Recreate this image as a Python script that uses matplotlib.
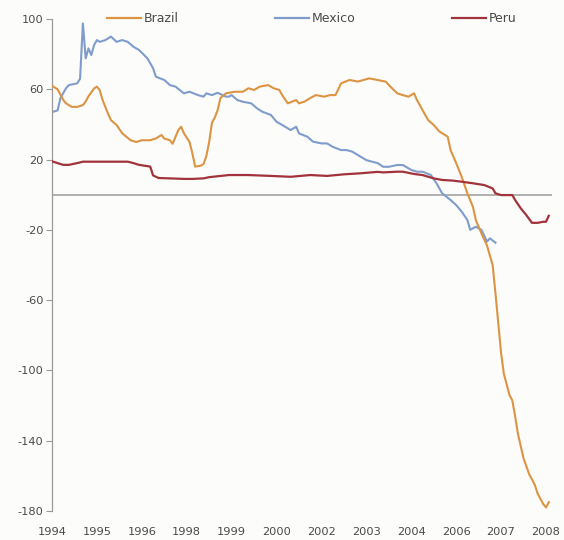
import matplotlib
matplotlib.use("Agg")
import matplotlib.pyplot as plt
from matplotlib.lines import Line2D

plt.rcParams['font.family'] = ['DejaVu Sans']

# Monthly index (0 = Jan 1994)
brazil_m = [0, 2, 4, 5, 7, 9, 11, 12, 13, 15, 16, 17, 18, 20, 21, 23, 25, 28, 30, 32, 35, 37, 39, 40,
            42, 43, 45, 46, 47, 49, 50, 51, 53, 54, 55, 56, 57, 58, 59, 60, 62, 65, 68, 70, 72, 74, 77,
            79, 81, 82, 84, 87, 88, 90, 92, 94, 97, 99, 101, 103, 106, 109, 111, 113, 116, 119, 120,
            123, 125, 127, 129, 130, 132, 134, 136, 138, 141, 142, 144, 146, 148, 150, 151, 153, 155,
            157, 158, 159, 160, 161, 163, 164, 165, 166, 167, 168, 170, 172, 173, 175, 176, 177]
brazil_v = [62, 60, 54, 52, 50, 50, 51, 53, 56, 60.5, 61.5, 59.5, 54, 46, 42.5, 39.7, 35, 31, 30, 31, 31,
            32, 34, 32, 31, 29, 36.8, 38.7, 35, 30, 23.6, 16, 16.5, 17.5, 22, 30, 41, 44, 48, 55, 57.7,
            58.6, 58.6, 60.6, 59.6, 61.5, 62.4, 60.6, 59.6, 56.7, 52, 53.9, 52, 53, 55, 56.7, 55.8,
            56.7, 56.7, 63.4, 65.3, 64.4, 65.3, 66.2, 65.3, 64.3, 62.4, 57.7, 56.7, 55.8, 57.7, 54,
            48.2, 42.5, 39.7, 36, 33, 25.4, 18, 10, 0.8, -7, -14.4, -22, -29, -40, -56, -73, -90, -102,
            -114, -117, -126, -136, -143, -150, -159, -165, -170, -176, -178, -175]

mexico_m = [0, 2, 3, 5, 6, 9, 10, 11, 12, 13, 14, 15, 16, 17, 19, 21, 23, 25, 27, 29, 31, 34, 36, 37,
            40, 42, 44, 47, 49, 52, 54, 55, 57, 59, 62, 63, 64, 66, 68, 71, 73, 75, 78, 80, 82, 85,
            87, 88, 91, 93, 96, 98, 100, 103, 105, 107, 110, 112, 114, 116, 118, 120, 123, 125, 128,
            130, 132, 135, 137, 139, 142, 144, 146, 148, 149, 151, 153, 155, 156, 158]
mexico_v = [47, 48, 55, 60.6, 62.4, 63.4, 66, 97.5, 77.6, 83.3, 79.5, 85.2, 88, 87, 88, 90, 87, 88, 87,
            84.2, 82.4, 77.6, 72, 67.2, 65.3, 62.4, 61.5, 57.7, 58.6, 56.7, 55.8, 57.7, 56.7, 58, 55.8,
            55.8, 56.7, 53.9, 52.9, 52, 49.2, 47.2, 45.4, 41.5, 39.7, 36.8, 38.7, 34.9, 33, 30.2, 29.2,
            29.2, 27.3, 25.4, 25.4, 24.5, 21.6, 19.7, 18.8, 18, 15.9, 15.9, 16.9, 16.9, 14.1, 13.1,
            13.1, 11.2, 6.5, 0.8, -3, -5.9, -9.7, -14.4, -20, -18.2, -20, -26.7, -24.8, -27.3]

peru_m = [0, 2, 4, 6, 9, 11, 15, 21, 27, 29, 31, 35, 36, 38, 42, 47, 50, 54, 56, 59, 63, 70, 78, 85,
          92, 98, 104, 110, 116, 118, 123, 125, 129, 132, 136, 139, 143, 146, 150, 154, 157, 158,
          160, 164, 165, 167, 169, 171, 173, 175, 176, 177]
peru_v = [19, 18, 17, 17, 18, 18.8, 18.8, 18.8, 18.8, 18, 17, 16, 11, 9.5, 9.3, 9, 9, 9.3, 10, 10.5,
          11.2, 11.2, 10.7, 10.2, 11.2, 10.7, 11.6, 12.2, 13, 12.7, 13.1, 13.1, 11.8, 11.2, 9.3, 8.4,
          8, 7.4, 6.5, 5.5, 3.6, 0.8, -0.2, -0.2, -3, -7.7, -11.6, -16, -16, -15.4, -15.4, -12]

xtick_pos = [0, 16, 32, 48, 64, 80, 96, 112, 128, 144, 160, 176]
xtick_labels = ['1994', '1995', '1996', '1998', '1999', '2000', '2002', '2003', '2004', '2006', '2007', '2008']
yticks = [100, 60, 20, -20, -60, -100, -140, -180]

c_brazil = '#dc9443'
c_mexico = '#7f9ccc'
c_peru = '#a2333b'
txt = '#4a4a4a'
bg = '#fcfcfa'

fig = plt.figure(figsize=(5.64, 5.40), dpi=100, facecolor=bg)
ax = fig.add_axes([0.0922, 0.0537, 0.8858, 0.9111])
ax.set_facecolor(bg)

ax.axhline(0, color='#9c9c9c', lw=1.1, zorder=1)
ax.plot(brazil_m, brazil_v, color=c_brazil, lw=1.5, zorder=3, label='Brazil')
ax.plot(mexico_m, mexico_v, color=c_mexico, lw=1.5, zorder=2, label='Mexico')
ax.plot(peru_m, peru_v, color=c_peru, lw=1.6, zorder=4, label='Peru')

ax.set_xlim(0, 178)
ax.set_ylim(-180, 100)
ax.set_yticks(yticks)
ax.set_yticklabels([str(v) for v in yticks])
ax.set_xticks(xtick_pos)
ax.set_xticklabels(xtick_labels)

for s in ['top', 'right', 'bottom']:
    ax.spines[s].set_visible(False)
ax.spines['left'].set_color('#9a9a9a')
ax.spines['left'].set_linewidth(0.9)

ax.tick_params(axis='y', length=4, width=0.8, color='#9a9a9a', pad=2, labelsize=8.2, labelcolor=txt)
ax.tick_params(axis='x', length=0, pad=11.5, labelsize=8.2, labelcolor=txt)

handles = [Line2D([], [], color=c_brazil, lw=1.6),
           Line2D([], [], color=c_mexico, lw=1.6),
           Line2D([], [], color=c_peru, lw=1.6)]
fig.legend(handles, ['Brazil', 'Mexico', 'Peru'], ncol=3, loc='center left',
           bbox_to_anchor=(0.19, 0.965), frameon=False, fontsize=9,
           handlelength=2.7, handletextpad=0.25, columnspacing=7.7,
           borderpad=0, borderaxespad=0, labelcolor=txt)

fig.savefig('out.png', dpi=100, facecolor=bg)
